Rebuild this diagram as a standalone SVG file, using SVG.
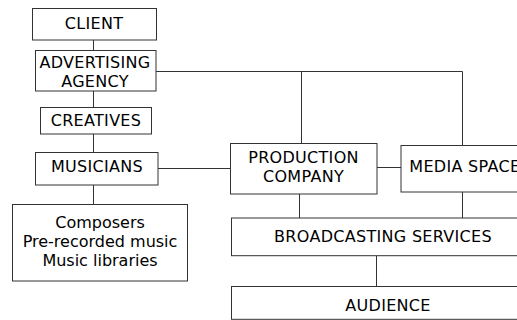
<svg xmlns="http://www.w3.org/2000/svg" width="517" height="320" viewBox="0 0 517 320">
<style>
.b{fill:#fff;stroke:#333;stroke-width:1}
.t{font-family:"DejaVu Sans",Verdana,sans-serif;font-size:16px;letter-spacing:0.3px;fill:#000;text-anchor:middle}
.l{font-family:"DejaVu Sans",Verdana,sans-serif;font-size:16px;fill:#000;text-anchor:middle}
.c{stroke:#333;stroke-width:1;fill:none}
</style>
<rect width="517" height="320" fill="#fff"/>
<g id="connectors">
<line class="c" x1="93.5" y1="40" x2="93.5" y2="50"/>
<line class="c" x1="93.5" y1="91" x2="93.5" y2="107"/>
<line class="c" x1="93.5" y1="134" x2="93.5" y2="152"/>
<line class="c" x1="93.5" y1="185" x2="93.5" y2="204"/>
<line class="c" x1="158" y1="168.5" x2="230" y2="168.5"/>
<polyline class="c" points="156,71.5 462.5,71.5 462.5,145"/>
<line class="c" x1="301.5" y1="71.5" x2="301.5" y2="143"/>
<line class="c" x1="377" y1="167.5" x2="401" y2="167.5"/>
<line class="c" x1="299.5" y1="194" x2="299.5" y2="218"/>
<line class="c" x1="462.5" y1="192" x2="462.5" y2="218"/>
<line class="c" x1="376.5" y1="256" x2="376.5" y2="286"/>
</g>
<g id="client"><rect class="b" x="32.5" y="8.5" width="124" height="31.5"/><text class="t" x="94" y="28.5">CLIENT</text></g>
<g id="agency"><rect class="b" x="35.5" y="50.5" width="120.5" height="40.5"/><text class="t" x="95" y="68.3">ADVERTISING</text><text class="t" x="95" y="86.7">AGENCY</text></g>
<g id="creatives"><rect class="b" x="40.5" y="107.5" width="111" height="26.5"/><text class="t" x="96" y="125.7">CREATIVES</text></g>
<g id="musicians"><rect class="b" x="35.5" y="152.5" width="122.5" height="32.5"/><text class="t" x="97" y="172.3">MUSICIANS</text></g>
<g id="sources"><rect class="b" x="12.5" y="204.5" width="175" height="76.5"/><text class="l" x="100" y="228.3">Composers</text><text class="l" x="100" y="247.3">Pre-recorded music</text><text class="l" x="100" y="266">Music libraries</text></g>
<g id="production"><rect class="b" x="230.5" y="143.5" width="146.5" height="50.5"/><text class="t" x="303.5" y="162.7">PRODUCTION</text><text class="t" x="303.5" y="182.3">COMPANY</text></g>
<g id="media"><rect class="b" x="401" y="145.5" width="130" height="46.5"/><text class="t" x="409.3" y="171.7" style="text-anchor:start">MEDIA SPACE</text></g>
<g id="broadcasting"><rect class="b" x="231.5" y="218" width="304" height="37.7"/><text class="t" x="383" y="242.3">BROADCASTING SERVICES</text></g>
<g id="audience"><rect class="b" x="231.5" y="286.5" width="314" height="32.8"/><text class="t" x="388" y="310.7">AUDIENCE</text></g>
</svg>
